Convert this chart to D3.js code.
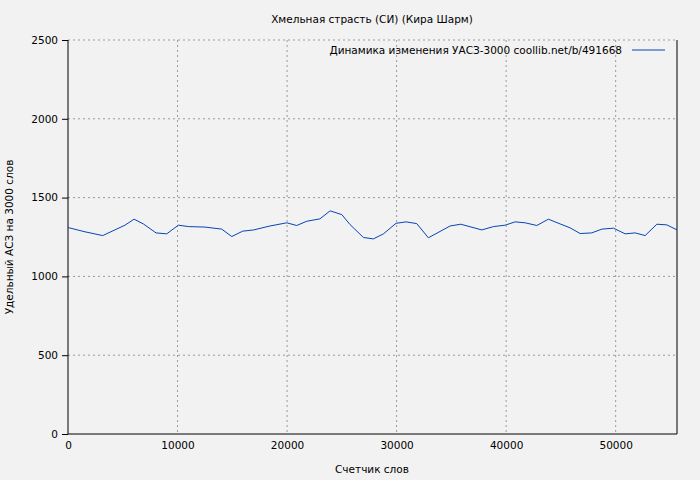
<!DOCTYPE html>
<html><head><meta charset="utf-8">
<script src="https://cdnjs.cloudflare.com/ajax/libs/d3/7.8.5/d3.min.js"></script>
<style>body{margin:0;background:#f2f2f2}text{font-family:"DejaVu Sans",sans-serif;font-size:10.5px;fill:#000}</style>
</head><body><svg width="700" height="480"></svg>
<script>
var words = [0,1550,3170,5200,6030,6880,8040,9010,10080,11000,12500,14030,14950,15950,16950,18450,19970,20880,21800,23000,23930,25000,25750,26970,27880,28800,29950,30870,31840,32900,34890,35860,37780,38840,39910,40820,41740,42800,43860,44930,45840,46760,47820,48740,49800,50870,51780,52690,53760,54670,55600];
var asl = [1310,1283,1259,1325,1363,1333,1276,1270,1325,1316,1313,1300,1253,1287,1295,1320,1340,1323,1350,1365,1416,1392,1329,1247,1238,1270,1337,1346,1335,1245,1320,1331,1295,1316,1325,1346,1340,1323,1363,1333,1308,1272,1276,1300,1306,1270,1276,1259,1331,1327,1295];
var xTicks = [0,10000,20000,30000,40000,50000];
var yTicks = [0,500,1000,1500,2000,2500];

var svg = d3.select("svg");
var x = d3.scaleLinear().domain([0,55600]).range([68,677]);
var y = d3.scaleLinear().domain([0,2500]).range([434,40]);

// grid
svg.selectAll(".gx").data(xTicks.slice(1)).enter().append("line")
  .attr("x1",d=>x(d)).attr("x2",d=>x(d)).attr("y1",40).attr("y2",434)
  .attr("stroke","#999").attr("stroke-dasharray","2,3");
svg.selectAll(".gy").data(yTicks.slice(1)).enter().append("line")
  .attr("x1",68).attr("x2",677).attr("y1",d=>y(d)).attr("y2",d=>y(d))
  .attr("stroke","#999").attr("stroke-dasharray","2,3");

svg.append("g").attr("transform","translate(0,434)")
  .call(d3.axisBottom(x).tickValues(xTicks).tickSize(0).tickFormat(d3.format("d")).tickPadding(8))
  .call(g=>g.select(".domain").remove());
svg.append("g").attr("transform","translate(68,0)")
  .call(d3.axisLeft(y).tickValues(yTicks).tickSize(6).tickFormat(d3.format("d")).tickPadding(4))
  .call(g=>g.select(".domain").remove());
svg.selectAll(".tick text").style("font-family","DejaVu Sans").style("font-size","10.5px");
svg.append("line").attr("x1",68).attr("x2",68).attr("y1",40).attr("y2",434).attr("stroke","#000");
svg.append("line").attr("x1",68).attr("x2",677).attr("y1",434).attr("y2",434).attr("stroke","#000");
svg.append("line").attr("x1",677).attr("x2",677).attr("y1",40).attr("y2",434).attr("stroke","#000");

svg.append("path").datum(words.map((w,i)=>[w,asl[i]]))
  .attr("d",d3.line().x(d=>x(d[0])).y(d=>y(d[1])))
  .attr("fill","none").attr("stroke","#0645b5").attr("stroke-width",1);

svg.append("text").attr("x",372).attr("y",23).attr("text-anchor","middle").text("Хмельная страсть (СИ) (Кира Шарм)");
svg.append("text").attr("x",372).attr("y",473).attr("text-anchor","middle").text("Счетчик слов");
svg.append("text").attr("transform","translate(13,237) rotate(-90)").attr("text-anchor","middle").text("Удельный АСЗ на 3000  слов");
svg.append("text").attr("x",622).attr("y",54).attr("text-anchor","end").text("Динамика изменения УАСЗ-3000  coollib.net/b/491668");
svg.append("line").attr("x1",632).attr("x2",665).attr("y1",50).attr("y2",50).attr("stroke","#0645b5");
</script></body></html>
